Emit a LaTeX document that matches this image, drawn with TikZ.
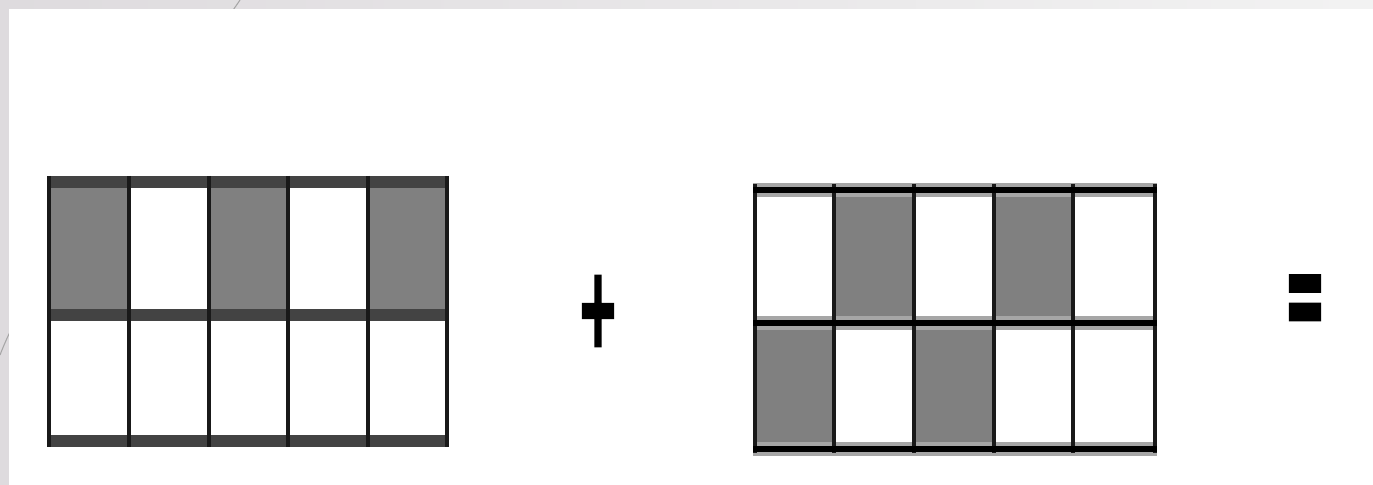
\documentclass[tikz,border=0pt]{standalone}
\usepackage{fontspec}
\newfontfamily\signfont{DejaVu Sans Bold}[FakeBold=3]
\definecolor{cellgray}{HTML}{808080}
\definecolor{bandgray}{HTML}{434343}
\definecolor{halogray}{HTML}{A6A6A6}
\definecolor{slidegray}{HTML}{DEDBDE}
\tikzset{
  shaded cell/.style={fill=cellgray},
  band/.style={draw=bandgray, line width=3.4pt},
  halo/.style={draw=halogray, line width=4pt},
  rule/.style={draw=black!90, line width=0.9pt},
  sign/.style={font=\signfont\fontsize{14}{14}\selectfont, inner sep=0pt}
}
\begin{document}
\begin{tikzpicture}[x=0.01cm,y=-0.01cm]
\useasboundingbox (0,0) rectangle (1373,485);
% slide background
\fill[slidegray] (0,0) rectangle (1373,485);
\shade[left color=slidegray, right color=black!5] (0,0) rectangle (1373,9);
\draw[gray!70, line width=0.3pt] (240,0) .. controls (200,60) and (40,250) .. (0,355);
\fill[white] (9,9) rectangle (1373,485);

% left grid
\foreach \i in {1,3,5}
  \fill[shaded cell] ({49+79.6*(\i-1)},182) rectangle ({49+79.6*\i},315);
\foreach \y in {182,315,441}
  \draw[band] (47,\y) -- (449,\y);
\foreach \x in {49,129,209,288,368,447}
  \draw[rule] (\x,176) -- (\x,447);

\node[sign, yscale=2.25] (plus) at (598,311) {+};

% right grid
\foreach \i in {2,4}
  \fill[shaded cell] ({755+80*(\i-1)},190) rectangle ({755+80*\i},323);
\foreach \i in {1,3}
  \fill[shaded cell] ({755+80*(\i-1)},323) rectangle ({755+80*\i},449);
\foreach \y in {190,323,449}
  \draw[halo] (753,\y) -- (1157,\y);
\foreach \x in {755,834,914,994,1073,1155}
  \draw[rule] (\x,184) -- (\x,453);
\foreach \y in {190,323,449}
  \draw[black, line width=1.7pt] (753,\y) -- (1157,\y);

\node[sign, yscale=2.6] (equals) at (1305,307) {=};
\end{tikzpicture}
\end{document}
